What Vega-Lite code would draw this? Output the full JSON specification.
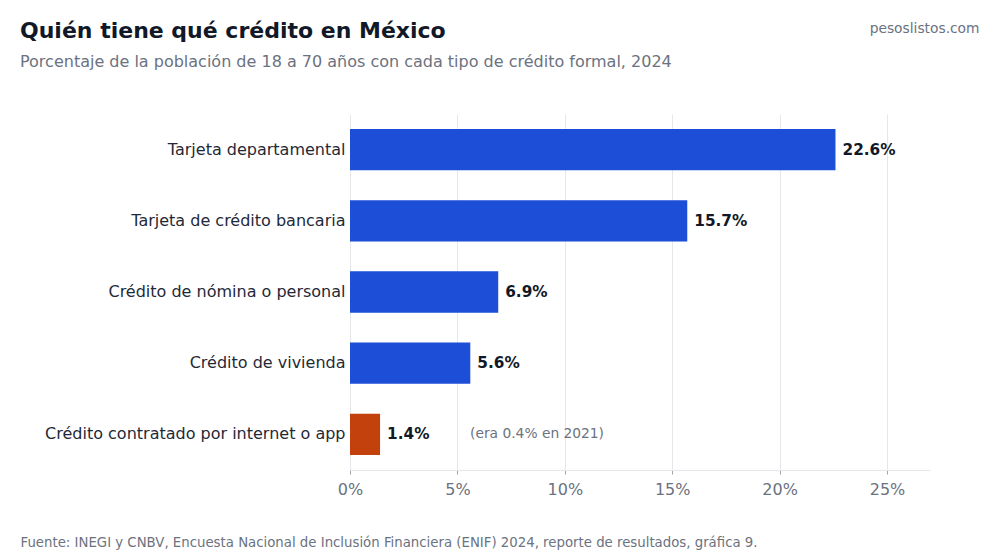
{
  "$schema": "https://vega.github.io/schema/vega-lite/v6.json",
  "autosize": "none",
  "width": 580,
  "height": 356,
  "padding": {"left": 350, "top": 114, "right": 70, "bottom": 90},
  "background": "white",
  "title": {
    "text": "Quién tiene qué crédito en México",
    "subtitle": "Porcentaje de la población de 18 a 70 años con cada tipo de crédito formal, 2024",
    "anchor": "start",
    "frame": "group",
    "dx": -330,
    "offset": -50,
    "font": "DejaVu Sans",
    "fontSize": 22,
    "fontWeight": "bold",
    "color": "#111827",
    "subtitleFont": "DejaVu Sans",
    "subtitleFontSize": 16,
    "subtitleColor": "#6b7280",
    "subtitlePadding": 11
  },
  "data": {
    "values": [
      {"tipo": "Tarjeta departamental", "pct": 22.6, "grupo": "tradicional", "nota": ""},
      {"tipo": "Tarjeta de crédito bancaria", "pct": 15.7, "grupo": "tradicional", "nota": ""},
      {"tipo": "Crédito de nómina o personal", "pct": 6.9, "grupo": "tradicional", "nota": ""},
      {"tipo": "Crédito de vivienda", "pct": 5.6, "grupo": "tradicional", "nota": ""},
      {"tipo": "Crédito contratado por internet o app", "pct": 1.4, "grupo": "digital", "nota": "(era 0.4% en 2021)"}
    ]
  },
  "transform": [{"calculate": "format(datum.pct, '.1f') + '%'", "as": "etiqueta"}],
  "encoding": {
    "y": {
      "field": "tipo",
      "type": "nominal",
      "sort": null,
      "scale": {"paddingInner": 0.42, "paddingOuter": 0.21},
      "axis": {
        "title": "pesoslistos.com",
        "titleAngle": 0,
        "titleX": 629,
        "titleY": -82,
        "titleAlign": "right",
        "titleBaseline": "alphabetic",
        "titleFont": "DejaVu Sans",
        "titleFontSize": 13.8,
        "titleFontWeight": "normal",
        "titleColor": "#6b7280",
        "domain": false,
        "ticks": false,
        "labelPadding": 5,
        "labelFont": "DejaVu Sans",
        "labelFontSize": 16,
        "labelColor": "#1f2937",
        "labelLimit": 400
      }
    },
    "x": {
      "field": "pct",
      "type": "quantitative",
      "scale": {"domain": [0, 27], "nice": false},
      "axis": {
        "values": [0, 5, 10, 15, 20, 25],
        "labelExpr": "datum.value + '%'",
        "labelFlush": false,
        "title": "Fuente: INEGI y CNBV, Encuesta Nacional de Inclusión Financiera (ENIF) 2024, reporte de resultados, gráfica 9.",
        "titleX": -330,
        "titleY": 76,
        "titleAlign": "left",
        "titleAnchor": "start",
        "titleBaseline": "alphabetic",
        "titleFont": "DejaVu Sans",
        "titleFontSize": 13.3,
        "titleFontWeight": "normal",
        "titleColor": "#6b7280",
        "labelFont": "DejaVu Sans",
        "labelFontSize": 16,
        "labelColor": "#6b7280",
        "labelPadding": 7,
        "domainColor": "#e5e7eb",
        "tickColor": "#9ca3af",
        "tickSize": 4,
        "gridColor": "#e5e7eb"
      }
    }
  },
  "layer": [
    {
      "mark": {"type": "bar"},
      "encoding": {
        "color": {
          "field": "grupo",
          "type": "nominal",
          "scale": {"domain": ["tradicional", "digital"], "range": ["#1d4ed8", "#c2410c"]},
          "legend": null
        }
      }
    },
    {
      "mark": {"type": "text", "align": "left", "baseline": "middle", "dx": 7, "font": "DejaVu Sans", "fontSize": 15.3, "fontWeight": "bold", "color": "#111827"},
      "encoding": {
        "text": {"field": "etiqueta"}
      }
    },
    {
      "transform": [{"filter": "datum.nota != ''"}],
      "mark": {"type": "text", "align": "left", "baseline": "middle", "dx": 90, "font": "DejaVu Sans", "fontSize": 13.8, "color": "#6b7280"},
      "encoding": {
        "text": {"field": "nota"}
      }
    }
  ],
  "config": {
    "view": {"stroke": null}
  }
}
